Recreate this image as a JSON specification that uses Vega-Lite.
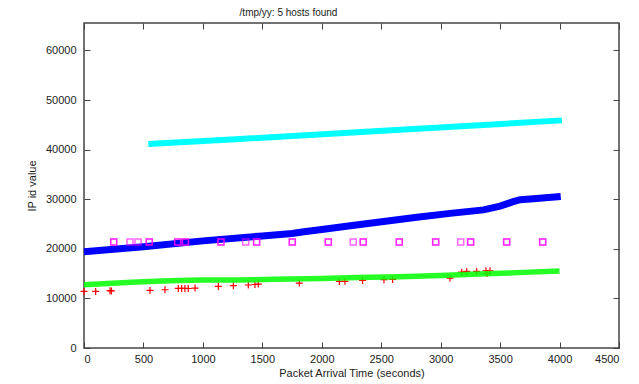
{
  "$schema": "https://vega.github.io/schema/vega-lite/v6.json",
  "width": 535,
  "height": 325,
  "autosize": {"type": "none"},
  "padding": {"left": 84, "top": 23, "right": 20, "bottom": 36},
  "title": {"text": "/tmp/yy: 5 hosts found", "font": "Liberation Sans", "fontSize": 10, "fontWeight": "normal", "color": "#222", "anchor": "middle", "dx": -63, "offset": 5},
  "config": {
    "view": {"stroke": "#444", "strokeWidth": 1.5},
    "axis": {"domain": false, "grid": false, "format": "d", "tickColor": "#444", "tickSize": -6, "tickWidth": 1, "labelFont": "Liberation Sans", "labelFontSize": 11, "labelColor": "#222", "titleFont": "Liberation Sans", "titleFontSize": 11, "titleFontWeight": "normal", "titleColor": "#222"}
  },
  "datasets": {
    "red": [
      {"t": 0, "id": 11410}, {"t": 98, "id": 11410}, {"t": 219, "id": 11550}, {"t": 230, "id": 11500},
      {"t": 555, "id": 11610}, {"t": 681, "id": 11750}, {"t": 793, "id": 12020}, {"t": 821, "id": 12020},
      {"t": 849, "id": 12020}, {"t": 877, "id": 12000}, {"t": 934, "id": 12090}, {"t": 1130, "id": 12420},
      {"t": 1256, "id": 12560}, {"t": 1382, "id": 12700}, {"t": 1438, "id": 12800}, {"t": 1466, "id": 12900},
      {"t": 1811, "id": 13100}, {"t": 2148, "id": 13430}, {"t": 2195, "id": 13450}, {"t": 2343, "id": 13630},
      {"t": 2523, "id": 13770}, {"t": 2596, "id": 13830}, {"t": 3078, "id": 14110}, {"t": 3177, "id": 15300},
      {"t": 3219, "id": 15450}, {"t": 3303, "id": 15450}, {"t": 3381, "id": 15580}, {"t": 3415, "id": 15580},
      {"t": 3390, "id": 15000}
    ],
    "green": [
      {"t": 0, "id": 12750}, {"t": 200, "id": 13000}, {"t": 400, "id": 13250}, {"t": 600, "id": 13450},
      {"t": 800, "id": 13600}, {"t": 1000, "id": 13700}, {"t": 1300, "id": 13720}, {"t": 1600, "id": 13850},
      {"t": 2000, "id": 14000}, {"t": 2300, "id": 14200}, {"t": 2650, "id": 14350}, {"t": 3000, "id": 14600},
      {"t": 3370, "id": 14950}, {"t": 3700, "id": 15250}, {"t": 4000, "id": 15550}
    ],
    "blue": [
      {"t": 0, "id": 19400}, {"t": 500, "id": 20400}, {"t": 1000, "id": 21600}, {"t": 1500, "id": 22600},
      {"t": 1750, "id": 23100}, {"t": 1850, "id": 23450}, {"t": 2000, "id": 23900}, {"t": 2240, "id": 24650},
      {"t": 2520, "id": 25500}, {"t": 2800, "id": 26350}, {"t": 3080, "id": 27150}, {"t": 3360, "id": 27850},
      {"t": 3500, "id": 28600}, {"t": 3610, "id": 29500}, {"t": 3670, "id": 29900}, {"t": 3780, "id": 30100},
      {"t": 4010, "id": 30550}
    ],
    "magenta": [
      {"t": 250, "id": 21350}, {"t": 250, "id": 21350}, {"t": 387, "id": 21350}, {"t": 455, "id": 21350},
      {"t": 549, "id": 21350}, {"t": 549, "id": 21350}, {"t": 788, "id": 21350}, {"t": 788, "id": 21350},
      {"t": 853, "id": 21350}, {"t": 853, "id": 21350}, {"t": 1152, "id": 21350}, {"t": 1152, "id": 21350},
      {"t": 1360, "id": 21350}, {"t": 1452, "id": 21350}, {"t": 1452, "id": 21350}, {"t": 1752, "id": 21350},
      {"t": 1752, "id": 21350}, {"t": 2055, "id": 21350}, {"t": 2055, "id": 21350}, {"t": 2265, "id": 21350},
      {"t": 2349, "id": 21350}, {"t": 2349, "id": 21350}, {"t": 2652, "id": 21350}, {"t": 2652, "id": 21350},
      {"t": 2958, "id": 21350}, {"t": 2958, "id": 21350}, {"t": 3168, "id": 21350}, {"t": 3252, "id": 21350},
      {"t": 3252, "id": 21350}, {"t": 3555, "id": 21350}, {"t": 3555, "id": 21350}, {"t": 3858, "id": 21350},
      {"t": 3858, "id": 21350}
    ],
    "cyan": [
      {"t": 541, "id": 41150}, {"t": 1312, "id": 42150}, {"t": 2658, "id": 44010}, {"t": 4020, "id": 45900}
    ]
  },
  "resolve": {"axis": {"x": "independent", "y": "independent"}},
  "layer": [
    {
      "data": {"name": "red"},
      "mark": {"type": "point", "shape": "M-1,0L1,0M0,-1L0,1", "filled": false, "color": "#ff0000", "size": 49, "strokeWidth": 1.2, "opacity": 1},
      "encoding": {
        "x": {"field": "t", "type": "quantitative", "scale": {"domain": [0, 4500], "nice": false}, "axis": {"title": "Packet Arrival Time (seconds)", "values": [0, 500, 1000, 1500, 2000, 2500, 3000, 3500, 4000, 4500], "labelPadding": 11, "titlePadding": 3, "orient": "bottom"}},
        "y": {"field": "id", "type": "quantitative", "scale": {"domain": [0, 65536], "nice": false}, "axis": {"title": "IP id value", "values": [0, 10000, 20000, 30000, 40000, 50000, 60000], "labelPadding": 14, "titlePadding": 8, "orient": "left"}}
      }
    },
    {
      "data": {"name": "green"},
      "mark": {"type": "line", "color": "#00ff00", "strokeWidth": 5.5, "opacity": 0.85},
      "encoding": {
        "x": {"field": "t", "type": "quantitative", "axis": {"orient": "top", "labels": false, "title": null, "values": [0, 500, 1000, 1500, 2000, 2500, 3000, 3500, 4000, 4500]}},
        "y": {"field": "id", "type": "quantitative", "axis": {"orient": "right", "labels": false, "title": null, "values": [0, 10000, 20000, 30000, 40000, 50000, 60000]}}
      }
    },
    {
      "data": {"name": "blue"},
      "mark": {"type": "line", "color": "#0000ff", "strokeWidth": 7},
      "encoding": {
        "x": {"field": "t", "type": "quantitative", "axis": null},
        "y": {"field": "id", "type": "quantitative", "axis": null}
      }
    },
    {
      "data": {"name": "magenta"},
      "mark": {"type": "point", "shape": "square", "filled": false, "color": "#ff00ff", "size": 36, "strokeWidth": 1.5, "opacity": 0.6},
      "encoding": {
        "x": {"field": "t", "type": "quantitative", "axis": null},
        "y": {"field": "id", "type": "quantitative", "axis": null}
      }
    },
    {
      "data": {"name": "cyan"},
      "mark": {"type": "line", "color": "#00ffff", "strokeWidth": 6},
      "encoding": {
        "x": {"field": "t", "type": "quantitative", "axis": null},
        "y": {"field": "id", "type": "quantitative", "axis": null}
      }
    }
  ]
}
